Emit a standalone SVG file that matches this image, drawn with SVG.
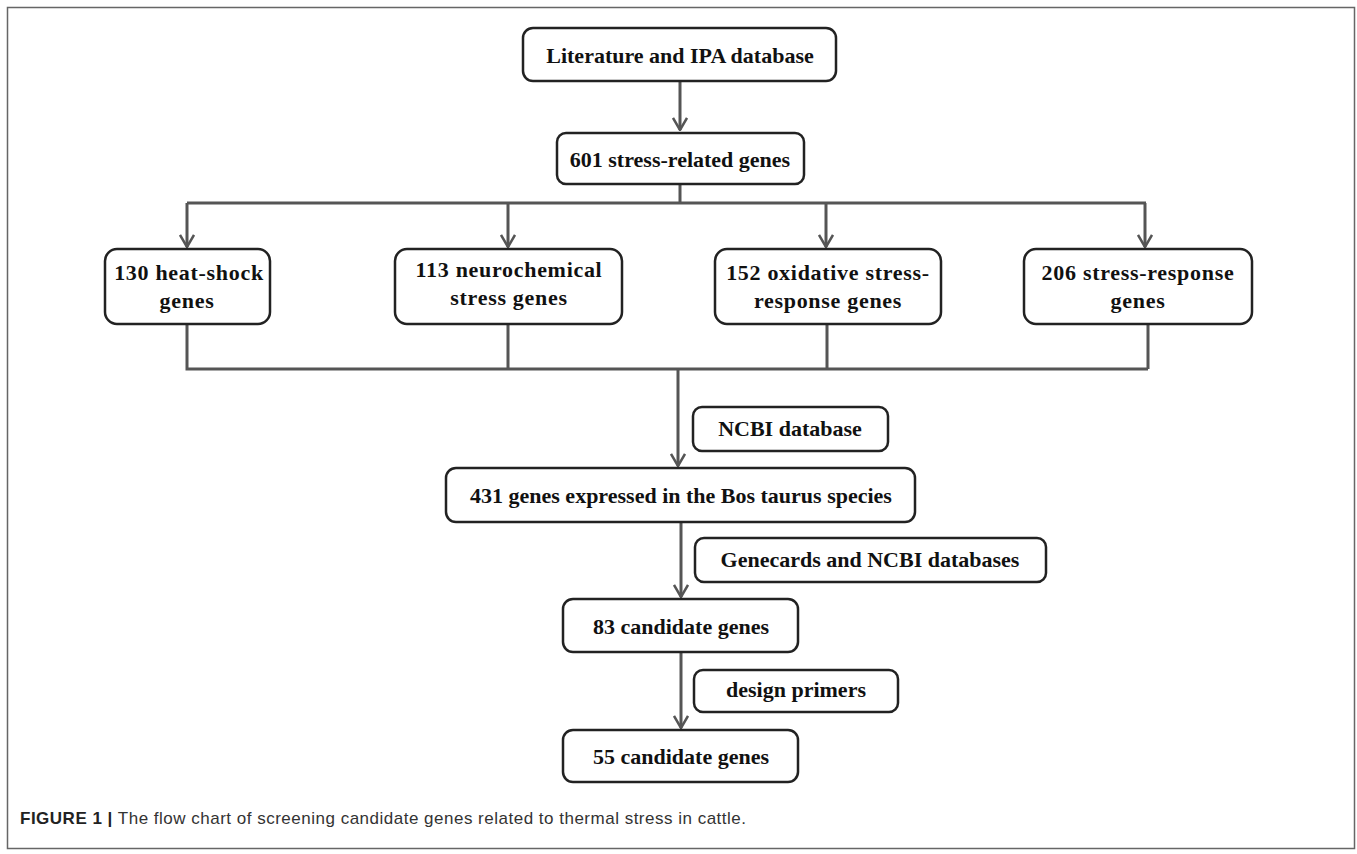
<svg xmlns="http://www.w3.org/2000/svg" width="1357" height="854" viewBox="0 0 1357 854">
<style>
.box{fill:#fff;stroke:#222;stroke-width:2.5}
.t{font-family:"Liberation Serif","Times New Roman",serif;font-weight:bold;font-size:22px;fill:#111;text-anchor:middle}
.t2{font-family:"Liberation Serif","Times New Roman",serif;font-weight:bold;font-size:22px;letter-spacing:0.7px;fill:#111;text-anchor:middle}
.c{fill:none;stroke:#555;stroke-width:3}
.cap{font-family:"Liberation Sans",Arial,sans-serif;font-size:17px;letter-spacing:0.5px;fill:#333}
</style>
<defs>
<marker id="ah" viewBox="0 0 14 16" refX="13" refY="8" markerWidth="14" markerHeight="16" markerUnits="userSpaceOnUse" orient="auto">
<path d="M1,1 L13,8 L1,15" fill="none" stroke="#555" stroke-width="2.5"/>
</marker>
</defs>
<rect x="7.5" y="7.5" width="1347" height="841" fill="#fff" stroke="#666" stroke-width="1.5"/>
<g id="connectors">
<path class="c" d="M680,81 V130" marker-end="url(#ah)"/>
<path class="c" d="M680,184 V203"/>
<path class="c" d="M187,203 H1146"/>
<path class="c" d="M187,203 V247" marker-end="url(#ah)"/>
<path class="c" d="M508,203 V247" marker-end="url(#ah)"/>
<path class="c" d="M826,203 V247" marker-end="url(#ah)"/>
<path class="c" d="M1145,203 V247" marker-end="url(#ah)"/>
<path class="c" d="M187,324 V369 H1148 M508,324 V369 M827,324 V369 M1148,324 V369"/>
<path class="c" d="M678,369 V466" marker-end="url(#ah)"/>
<path class="c" d="M681,522 V597" marker-end="url(#ah)"/>
<path class="c" d="M681,652 V728" marker-end="url(#ah)"/>
</g>
<g id="n-lit"><rect class="box" x="523" y="28" width="313" height="53" rx="10"/><text class="t" x="680" y="63">Literature and IPA database</text></g>
<g id="n-601"><rect class="box" x="557" y="133" width="247" height="51" rx="9"/><text class="t" x="680" y="167">601 stress-related genes</text></g>
<g id="n-130"><rect class="box" x="105" y="249" width="165" height="75" rx="12"/><text class="t2" x="189" y="280">130 heat-shock</text><text class="t2" x="187" y="308">genes</text></g>
<g id="n-113"><rect class="box" x="395" y="249" width="227" height="75" rx="12"/><text class="t2" x="509" y="277">113 neurochemical</text><text class="t2" x="509" y="305">stress genes</text></g>
<g id="n-152"><rect class="box" x="715" y="249" width="226" height="75" rx="12"/><text class="t2" x="828" y="280">152 oxidative stress-</text><text class="t2" x="828" y="308">response genes</text></g>
<g id="n-206"><rect class="box" x="1024" y="249" width="228" height="75" rx="12"/><text class="t2" x="1138" y="280">206 stress-response</text><text class="t2" x="1138" y="308">genes</text></g>
<g id="n-ncbi"><rect class="box" x="693" y="407" width="195" height="44" rx="9"/><text class="t" x="790" y="436">NCBI database</text></g>
<g id="n-431"><rect class="box" x="446" y="468" width="469" height="54" rx="10"/><text class="t" x="681" y="503">431 genes expressed in the Bos taurus species</text></g>
<g id="n-gene"><rect class="box" x="695" y="538" width="351" height="44" rx="9"/><text class="t" x="870" y="567">Genecards and NCBI databases</text></g>
<g id="n-83"><rect class="box" x="563" y="599" width="235" height="53" rx="10"/><text class="t" x="681" y="634">83 candidate genes</text></g>
<g id="n-design"><rect class="box" x="694" y="670" width="204" height="42" rx="9"/><text class="t" x="796" y="697">design primers</text></g>
<g id="n-55"><rect class="box" x="563" y="730" width="235" height="52" rx="10"/><text class="t" x="681" y="764">55 candidate genes</text></g>
<text class="cap" x="20" y="824"><tspan font-weight="bold" fill="#222">FIGURE 1 |</tspan> The flow chart of screening candidate genes related to thermal stress in cattle.</text>
</svg>
